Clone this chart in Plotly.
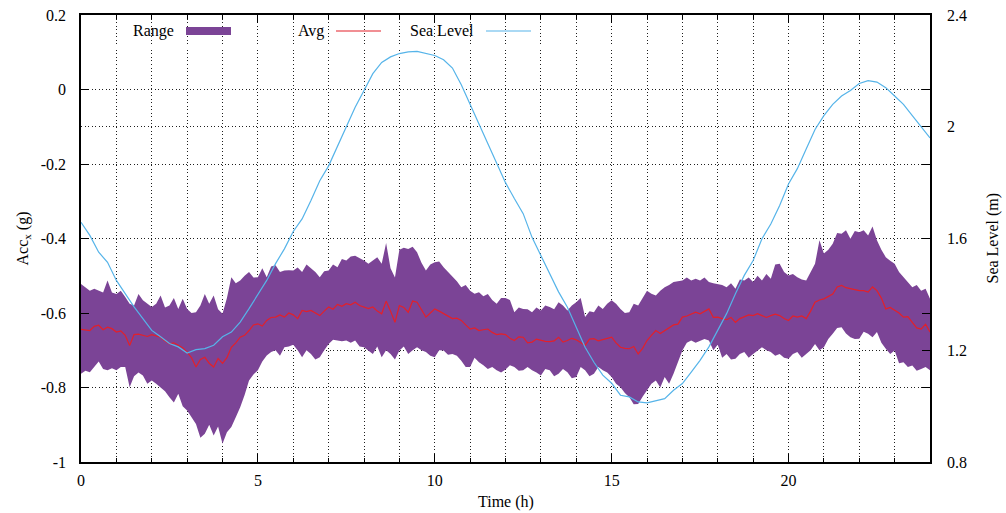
import plotly.graph_objects as go

# ---- data ----
band_time_h = [i * 0.125 for i in range(193)]
sea_time_h = [i * 0.25 for i in range(97)]

range_upper = [
    -0.522, -0.530, -0.540, -0.535, -0.540, -0.545, -0.513, -0.545,
    -0.549, -0.540, -0.557, -0.575, -0.580, -0.549, -0.566, -0.575,
    -0.584, -0.575, -0.553, -0.585, -0.580, -0.560, -0.589, -0.562,
    -0.589, -0.600, -0.598, -0.580, -0.549, -0.575, -0.553, -0.590,
    -0.602, -0.560, -0.504, -0.520, -0.513, -0.500, -0.490, -0.505,
    -0.504, -0.480, -0.504, -0.475, -0.472, -0.490, -0.486, -0.485,
    -0.486, -0.478, -0.490, -0.470, -0.481, -0.490, -0.504, -0.488,
    -0.486, -0.470, -0.477, -0.455, -0.459, -0.448, -0.446, -0.452,
    -0.459, -0.468, -0.459, -0.450, -0.468, -0.412, -0.480, -0.505,
    -0.430, -0.425, -0.428, -0.422, -0.437, -0.465, -0.486, -0.470,
    -0.464, -0.462, -0.477, -0.490, -0.504, -0.515, -0.531, -0.525,
    -0.540, -0.548, -0.544, -0.555, -0.549, -0.565, -0.575, -0.560,
    -0.560, -0.565, -0.598, -0.585, -0.589, -0.590, -0.598, -0.585,
    -0.593, -0.580, -0.584, -0.590, -0.571, -0.580, -0.593, -0.580,
    -0.571, -0.560, -0.611, -0.595, -0.598, -0.580, -0.589, -0.575,
    -0.566, -0.575, -0.589, -0.600, -0.598, -0.575, -0.580, -0.560,
    -0.540, -0.548, -0.553, -0.540, -0.531, -0.525, -0.517, -0.515,
    -0.513, -0.505, -0.513, -0.508, -0.513, -0.505, -0.517, -0.520,
    -0.522, -0.525, -0.531, -0.520, -0.535, -0.510, -0.513, -0.505,
    -0.517, -0.500, -0.513, -0.495, -0.508, -0.470, -0.468, -0.490,
    -0.499, -0.495, -0.504, -0.510, -0.513, -0.490, -0.468, -0.405,
    -0.440, -0.430, -0.414, -0.385, -0.387, -0.378, -0.401, -0.380,
    -0.383, -0.378, -0.392, -0.368, -0.405, -0.430, -0.450, -0.460,
    -0.468, -0.490, -0.504, -0.520, -0.531, -0.525, -0.540, -0.535,
    -0.562,
]

range_lower = [
    -0.763, -0.755, -0.759, -0.745, -0.730, -0.750, -0.754, -0.748,
    -0.754, -0.745, -0.745, -0.799, -0.770, -0.760, -0.768, -0.790,
    -0.781, -0.790, -0.799, -0.810, -0.826, -0.840, -0.817, -0.850,
    -0.862, -0.880, -0.898, -0.935, -0.924, -0.900, -0.929, -0.905,
    -0.951, -0.920, -0.906, -0.880, -0.853, -0.820, -0.781, -0.765,
    -0.754, -0.730, -0.714, -0.705, -0.700, -0.715, -0.692, -0.690,
    -0.685, -0.700, -0.719, -0.700, -0.710, -0.725, -0.719, -0.700,
    -0.683, -0.672, -0.674, -0.676, -0.674, -0.680, -0.674, -0.690,
    -0.692, -0.700, -0.710, -0.690, -0.719, -0.700, -0.710, -0.725,
    -0.701, -0.690, -0.710, -0.700, -0.692, -0.700, -0.705, -0.715,
    -0.719, -0.700, -0.701, -0.712, -0.710, -0.715, -0.728, -0.745,
    -0.745, -0.720, -0.732, -0.740, -0.750, -0.745, -0.754, -0.760,
    -0.752, -0.740, -0.745, -0.755, -0.754, -0.745, -0.754, -0.760,
    -0.768, -0.750, -0.754, -0.770, -0.763, -0.750, -0.759, -0.775,
    -0.772, -0.745, -0.754, -0.770, -0.763, -0.745, -0.754, -0.760,
    -0.772, -0.790, -0.799, -0.815, -0.826, -0.845, -0.844, -0.825,
    -0.808, -0.790, -0.781, -0.800, -0.772, -0.790, -0.763, -0.730,
    -0.701, -0.680, -0.674, -0.680, -0.674, -0.670, -0.674, -0.700,
    -0.685, -0.720, -0.710, -0.725, -0.723, -0.710, -0.705, -0.720,
    -0.710, -0.700, -0.692, -0.700, -0.705, -0.715, -0.710, -0.720,
    -0.723, -0.710, -0.705, -0.720, -0.710, -0.700, -0.683, -0.700,
    -0.692, -0.670, -0.656, -0.640, -0.638, -0.655, -0.665, -0.670,
    -0.669, -0.650, -0.656, -0.665, -0.651, -0.680, -0.696, -0.710,
    -0.701, -0.735, -0.732, -0.745, -0.741, -0.755, -0.750, -0.745,
    -0.754,
]

avg = [
    -0.644, -0.645, -0.647, -0.636, -0.633, -0.645, -0.638, -0.642,
    -0.651, -0.648, -0.660, -0.687, -0.658, -0.657, -0.660, -0.663,
    -0.658, -0.662, -0.665, -0.675, -0.683, -0.680, -0.687, -0.693,
    -0.705, -0.720, -0.745, -0.725, -0.719, -0.735, -0.745, -0.722,
    -0.735, -0.720, -0.692, -0.680, -0.665, -0.660, -0.647, -0.632,
    -0.629, -0.635, -0.620, -0.612, -0.611, -0.605, -0.611, -0.600,
    -0.605, -0.615, -0.593, -0.596, -0.593, -0.600, -0.607, -0.595,
    -0.584, -0.590, -0.577, -0.582, -0.575, -0.578, -0.571, -0.580,
    -0.584, -0.588, -0.584, -0.595, -0.602, -0.568, -0.595, -0.625,
    -0.580, -0.585, -0.598, -0.568, -0.571, -0.590, -0.611, -0.600,
    -0.589, -0.595, -0.602, -0.608, -0.615, -0.614, -0.620, -0.632,
    -0.643, -0.640, -0.647, -0.645, -0.643, -0.652, -0.658, -0.656,
    -0.658, -0.668, -0.674, -0.664, -0.665, -0.680, -0.678, -0.670,
    -0.674, -0.676, -0.677, -0.675, -0.665, -0.678, -0.674, -0.668,
    -0.672, -0.680, -0.687, -0.670, -0.669, -0.675, -0.672, -0.668,
    -0.665, -0.680, -0.692, -0.695, -0.696, -0.690, -0.710, -0.695,
    -0.674, -0.660, -0.647, -0.655, -0.647, -0.638, -0.632, -0.630,
    -0.611, -0.608, -0.602, -0.598, -0.602, -0.595, -0.589, -0.612,
    -0.611, -0.615, -0.618, -0.612, -0.625, -0.615, -0.611, -0.605,
    -0.607, -0.602, -0.607, -0.612, -0.607, -0.603, -0.607, -0.615,
    -0.620, -0.608, -0.611, -0.608, -0.615, -0.595, -0.571, -0.565,
    -0.562, -0.556, -0.549, -0.530, -0.526, -0.532, -0.535, -0.538,
    -0.540, -0.540, -0.544, -0.530, -0.540, -0.560, -0.589, -0.585,
    -0.593, -0.600, -0.611, -0.610, -0.625, -0.640, -0.643, -0.630,
    -0.651,
]

sea_level = [
    1.658, 1.611, 1.551, 1.515, 1.450, 1.402, 1.355, 1.313, 1.271, 1.248,
    1.224, 1.212, 1.190, 1.202, 1.206, 1.218, 1.248, 1.265, 1.301, 1.349,
    1.402, 1.450, 1.510, 1.563, 1.625, 1.670, 1.736, 1.807, 1.860, 1.930,
    2.000, 2.070, 2.130, 2.190, 2.230, 2.250, 2.262, 2.268, 2.270, 2.262,
    2.255, 2.240, 2.210, 2.150, 2.080, 2.010, 1.940, 1.870, 1.800, 1.743,
    1.689, 1.604, 1.539, 1.475, 1.409, 1.354, 1.282, 1.211, 1.157, 1.111,
    1.082, 1.039, 1.033, 1.015, 1.012, 1.019, 1.027, 1.057, 1.081, 1.122,
    1.164, 1.212, 1.270, 1.331, 1.402, 1.468, 1.521, 1.599, 1.652, 1.718,
    1.795, 1.850, 1.920, 1.990, 2.040, 2.080, 2.110, 2.130, 2.155, 2.165,
    2.160, 2.140, 2.110, 2.080, 2.040, 2.000, 1.960,
]

x_tickvals = [0, 5, 10, 15, 20]
x_ticktext = ["0", "5", "10", "15", "20"]
y_tickvals = [0.2, 0, -0.2, -0.4, -0.6, -0.8, -1]
y_ticktext = ["0.2", "0", "-0.2", "-0.4", "-0.6", "-0.8", "-1"]
y2_tickvals = [0.8, 1.2, 1.6, 2.0, 2.4]
y2_ticktext = ["0.8", "1.2", "1.6", "2", "2.4"]

legend_names = ["Range", "Avg", "Sea Level"]

# ---- style ----
PURPLE = "#7B4496"
RED = "#E3202A"
BLUE = "#56B4E9"
FONT = "Liberation Serif"
FS = 16
GRID = "#1e1e1e"
DASH = "1px,2.5px"

fig = go.Figure()
fig.add_trace(go.Scatter(x=band_time_h, y=range_lower, mode="lines", line=dict(width=0, color=PURPLE),
                         showlegend=False, hoverinfo="skip"))
fig.add_trace(go.Scatter(x=band_time_h, y=range_upper, mode="lines", line=dict(width=0, color=PURPLE),
                         fill="tonexty", fillcolor=PURPLE, showlegend=False, name=legend_names[0]))
fig.add_trace(go.Scatter(x=band_time_h, y=avg, mode="lines", line=dict(width=1.2, color=RED),
                         showlegend=False, name=legend_names[1]))
fig.add_trace(go.Scatter(x=sea_time_h, y=sea_level, mode="lines", line=dict(width=1.2, color=BLUE),
                         yaxis="y2", showlegend=False, name=legend_names[2]))

axis_common = dict(showline=True, linecolor="black", linewidth=1.5, ticks="inside",
                   tickcolor="black", tickwidth=1.2, zeroline=False, automargin=False,
                   showgrid=True, gridcolor=GRID, gridwidth=1, griddash=DASH,
                   tickfont=dict(family=FONT, size=FS, color="black"))

fig.update_layout(
    width=1006, height=513,
    margin=dict(l=81, r=76, t=15, b=51, autoexpand=False),
    paper_bgcolor="white", plot_bgcolor="white",
    font=dict(family=FONT, size=FS, color="black"),
    xaxis=dict(range=[0, 24], tickvals=x_tickvals, ticktext=x_ticktext, ticklen=8,
               mirror="ticks", ticklabelstandoff=3,
               minor=dict(dtick=1, ticklen=4, ticks="inside", tickcolor="black",
                          showgrid=True, gridcolor=GRID, gridwidth=1, griddash=DASH),
               **axis_common),
    yaxis=dict(range=[-1, 0.2], tickvals=y_tickvals, ticktext=y_ticktext, ticklen=8,
               mirror="ticks", ticklabelstandoff=10, **axis_common),
    yaxis2=dict(range=[0.8, 2.4], tickvals=y2_tickvals, ticktext=y2_ticktext, ticklen=8,
                overlaying="y", side="right", ticklabelstandoff=12, **axis_common),
    showlegend=False,
)

# axis titles
fig.add_annotation(text="Time (h)", xref="paper", yref="paper", x=0.5, y=0, yshift=-40,
                   xanchor="center", yanchor="middle", showarrow=False, font=dict(family=FONT, size=FS))
fig.add_annotation(text="Acc<sub>x</sub> (g)", xref="paper", yref="paper", x=0, y=0.5,
                   xshift=-58, xanchor="center", yanchor="middle", textangle=-90, showarrow=False,
                   font=dict(family=FONT, size=FS))
fig.add_annotation(text="Sea Level (m)", xref="paper", yref="paper", x=1, y=0.5,
                   xshift=62, xanchor="center", yanchor="middle", textangle=-90, showarrow=False,
                   font=dict(family=FONT, size=FS))

# gnuplot-style key (text then sample) at top of plot area
pw = 1006 - 81 - 76
ph = 513 - 15 - 51
def px(xp):
    return (xp - 81) / pw
def py(yp):
    return 1 - (yp - 15) / ph

key_y = 31
fig.add_annotation(text=legend_names[0], xref="paper", yref="paper", x=px(176), y=py(key_y),
                   xanchor="right", yanchor="middle", showarrow=False, font=dict(family=FONT, size=FS))
fig.add_shape(type="rect", xref="paper", yref="paper", x0=px(186), x1=px(231), y0=py(27), y1=py(35),
              fillcolor=PURPLE, line=dict(width=0))
fig.add_annotation(text=legend_names[1], xref="paper", yref="paper", x=px(326), y=py(key_y),
                   xanchor="right", yanchor="middle", showarrow=False, font=dict(family=FONT, size=FS))
fig.add_shape(type="line", xref="paper", yref="paper", x0=px(336), x1=px(381), y0=py(key_y), y1=py(key_y),
              line=dict(color=RED, width=1.2))
fig.add_annotation(text=legend_names[2], xref="paper", yref="paper", x=px(476), y=py(key_y),
                   xanchor="right", yanchor="middle", showarrow=False, font=dict(family=FONT, size=FS))
fig.add_shape(type="line", xref="paper", yref="paper", x0=px(486), x1=px(531), y0=py(key_y), y1=py(key_y),
              line=dict(color=BLUE, width=1.2))

fig.write_html("out.html")
